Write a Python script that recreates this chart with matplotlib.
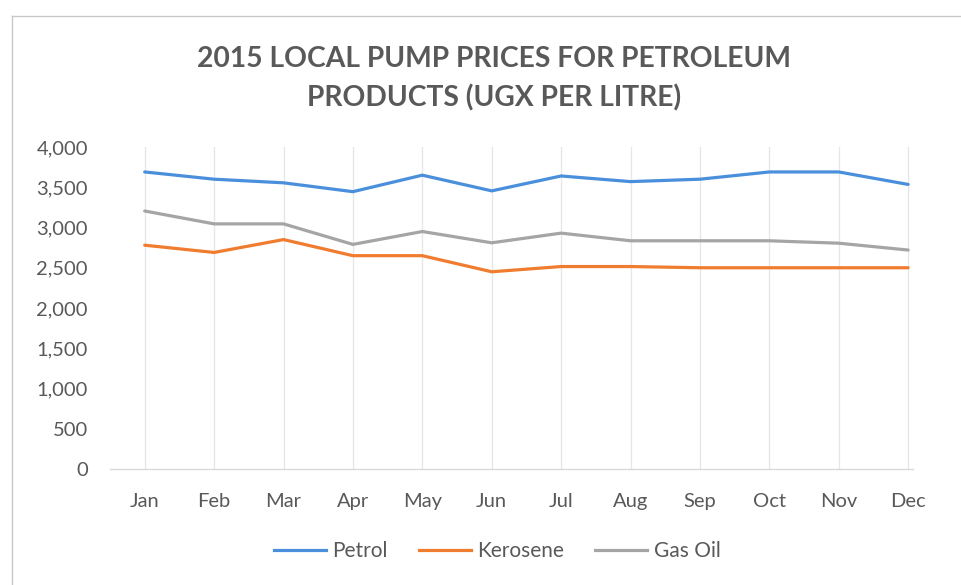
import matplotlib.pyplot as plt
from matplotlib.lines import Line2D

months = ["Jan", "Feb", "Mar", "Apr", "May", "Jun", "Jul", "Aug", "Sep", "Oct", "Nov", "Dec"]
petrol = [3690, 3600, 3555, 3445, 3650, 3455, 3640, 3570, 3600, 3690, 3690, 3535]
kerosene = [2780, 2690, 2850, 2650, 2650, 2450, 2515, 2515, 2500, 2500, 2500, 2500]
gas_oil = [3205, 3045, 3045, 2790, 2950, 2810, 2930, 2835, 2835, 2835, 2805, 2720]
yticks = [0, 500, 1000, 1500, 2000, 2500, 3000, 3500, 4000]

series = [("Petrol", petrol, "#4a8fdb"), ("Kerosene", kerosene, "#f07c2f"), ("Gas Oil", gas_oil, "#a5a5a5")]
txt = "#595959"

plt.rcParams['font.family'] = ['Lato', 'DejaVu Sans']

fig = plt.figure(figsize=(9.61, 5.85), dpi=100)
ax = fig.add_axes([110 / 961, 1 - 469 / 585, (913 - 110) / 961, (469 - 147) / 585])

x = list(range(len(months)))
for name, vals, col in series:
    ax.plot(x, vals, color=col, lw=2.3, label=name, solid_capstyle="round", zorder=3)

ax.set_xlim(-0.5, 11.07)
ax.set_ylim(0, 4000)
ax.set_xticks(x)
ax.set_xticklabels(months)
ax.set_yticks(yticks)
ax.set_yticklabels([f"{v:,}" for v in yticks])
ax.tick_params(axis="both", length=0, labelsize=14.5, colors=txt)
ax.tick_params(axis="x", pad=17)
ax.tick_params(axis="y", pad=16)
ax.xaxis.grid(True, color="#e6e6e6", lw=0.9, zorder=0)
for s in ["top", "right", "left"]:
    ax.spines[s].set_visible(False)
ax.spines["bottom"].set_color("#d9d9d9")
ax.spines["bottom"].set_linewidth(1.0)

fig.text(494 / 961, 1 - 79 / 585, "2015 LOCAL PUMP PRICES FOR PETROLEUM\nPRODUCTS (UGX PER LITRE)",
         ha="center", va="center", fontsize=20.3, fontweight="bold", color=txt, linespacing=1.55)

handles = [Line2D([], [], color=c, lw=2.3) for _, _, c in series]
fig.legend(handles, [n for n, _, _ in series], loc="center", bbox_to_anchor=(497 / 961, 1 - 551 / 585),
           ncol=3, frameon=False, fontsize=15, labelcolor=txt, handlelength=2.5,
           handletextpad=0.3, columnspacing=1.5)

# chart border (left and top edges visible in the screenshot)
fig.add_artist(Line2D([12 / 961, 12 / 961], [0, 1 - 16 / 585], color="#c8c8c8", lw=1.0))
fig.add_artist(Line2D([12 / 961, 1], [1 - 16 / 585, 1 - 16 / 585], color="#c8c8c8", lw=1.0))

fig.savefig("out.png", dpi=100)
